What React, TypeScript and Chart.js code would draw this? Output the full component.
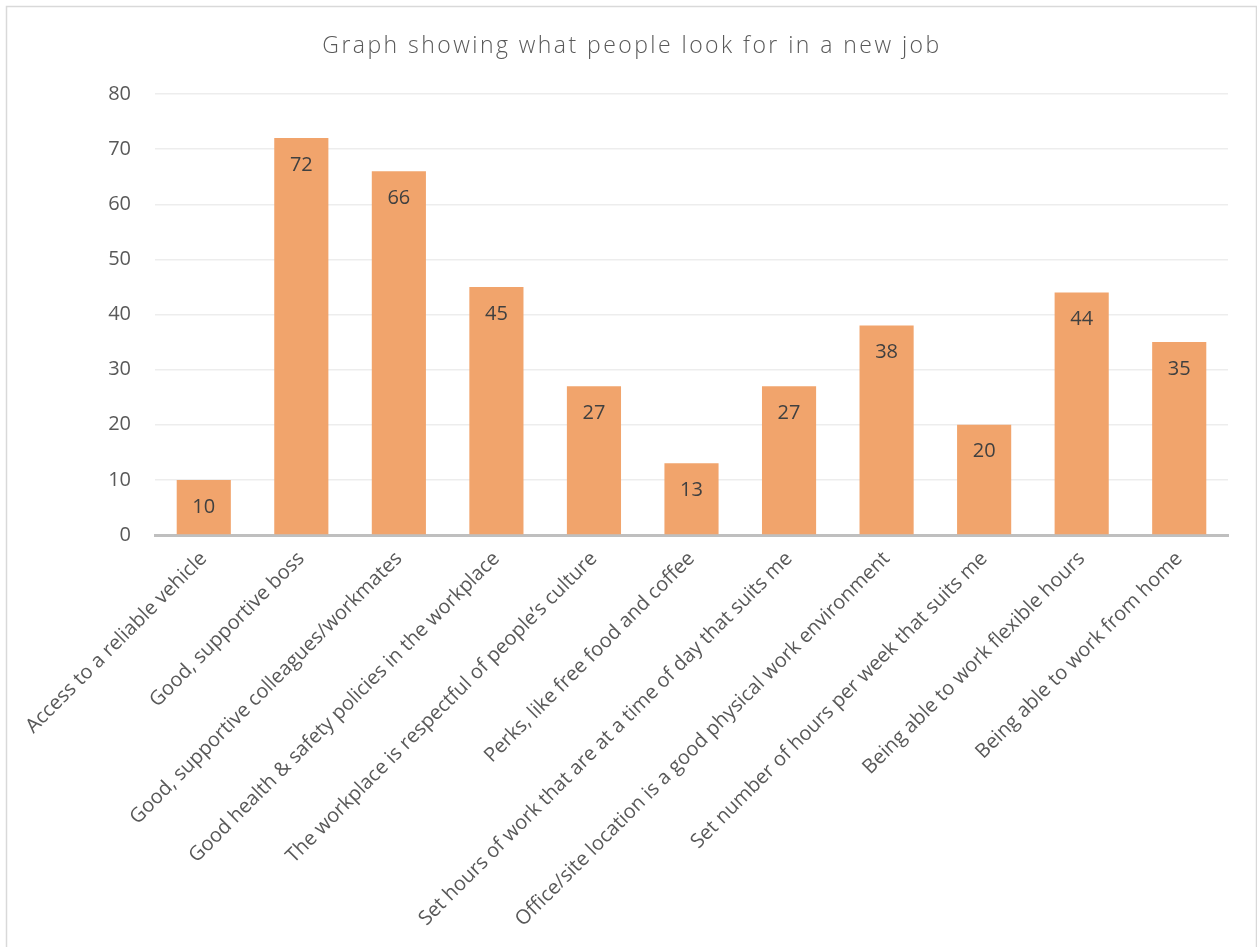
import React, { useEffect, useRef } from "react";
import { Chart, registerables } from "chart.js";

Chart.register(...registerables);

const TITLE = "Graph showing what people look for in a new job";

const categories: string[] = [
  "Access to a reliable vehicle",
  "Good, supportive boss",
  "Good, supportive colleagues/workmates",
  "Good health & safety policies in the workplace",
  "The workplace is respectful of people’s culture",
  "Perks, like free food and coffee",
  "Set hours of work that are at a time of day that suits me",
  "Office/site location is a good physical work environment",
  "Set number of hours per week that suits me",
  "Being able to work flexible hours",
  "Being able to work from home",
];

const values: number[] = [10, 72, 66, 45, 27, 13, 27, 38, 20, 44, 35];

const yMin = 0;
const yMax = 80;
const yStep = 10;

const W = 1257;
const H = 947;
const FONT = "'Open Sans', 'DejaVu Sans', sans-serif";

export default function App() {
  const ref = useRef<HTMLCanvasElement | null>(null);

  useEffect(() => {
    const canvas = ref.current;
    if (!canvas) return;

    const framePlugin = {
      id: "frame",
      beforeDraw(chart: any) {
        const ctx = chart.ctx;
        ctx.save();
        ctx.fillStyle = "#ffffff";
        ctx.fillRect(0, 0, W, H);
        ctx.strokeStyle = "#d9d9d9";
        ctx.lineWidth = 1.5;
        ctx.strokeRect(6.5, 6.5, 1250, 1000);
        ctx.restore();
      },
    };

    const titlePlugin = {
      id: "customTitle",
      afterDraw(chart: any) {
        const ctx = chart.ctx;
        ctx.save();
        ctx.font = `300 23px ${FONT}`;
        ctx.fillStyle = "#595959";
        ctx.textAlign = "center";
        ctx.textBaseline = "alphabetic";
        try {
          (ctx as any).letterSpacing = "2.45px";
        } catch (e) {}
        ctx.fillText(TITLE, 632, 53);
        ctx.restore();
      },
    };

    const labelPlugin = {
      id: "barLabels",
      afterDatasetsDraw(chart: any) {
        const ctx = chart.ctx;
        const meta = chart.getDatasetMeta(0);
        ctx.save();
        ctx.font = `20px ${FONT}`;
        ctx.fillStyle = "#404040";
        ctx.textAlign = "center";
        ctx.textBaseline = "middle";
        meta.data.forEach((bar: any, i: number) => {
          ctx.fillText(String(values[i]), bar.x, bar.y + 27);
        });
        ctx.restore();
      },
    };

    const chart = new Chart(canvas, {
      type: "bar",
      data: {
        labels: categories,
        datasets: [
          {
            data: values,
            backgroundColor: "#F1A46C",
            borderWidth: 0,
            barPercentage: 0.555,
            categoryPercentage: 1,
          },
        ],
      },
      options: {
        responsive: false,
        animation: false,
        devicePixelRatio: 1,
        layout: { padding: { top: 94, right: 29, left: 0, bottom: 0 } },
        plugins: {
          legend: { display: false },
          title: { display: false },
          tooltip: { enabled: false },
        },
        scales: {
          x: {
            grid: { display: false, drawTicks: false },
            border: { display: true, color: "#BFBFBF", width: 3 },
            ticks: {
              autoSkip: false,
              minRotation: 45,
              maxRotation: 45,
              padding: 12,
              color: "#595959",
              font: { family: FONT, size: 20 },
            },
            afterFit(scale: any) {
              scale.height = H - 535;
              scale.paddingLeft = 0;
              scale.paddingRight = 0;
            },
          },
          y: {
            min: yMin,
            max: yMax,
            grid: { color: "#EDEDED", lineWidth: 1.5, drawTicks: false },
            border: { display: false },
            ticks: {
              stepSize: yStep,
              padding: 24,
              color: "#595959",
              font: { family: FONT, size: 20 },
            },
            afterFit(scale: any) {
              scale.width = 155;
            },
          },
        },
      },
      plugins: [framePlugin, titlePlugin, labelPlugin],
    });

    return () => chart.destroy();
  }, []);

  return (
    <div style={{ position: "absolute", left: 0, top: 0, width: W, height: H }}>
      <canvas ref={ref} width={W} height={H} style={{ display: "block" }} />
    </div>
  );
}
